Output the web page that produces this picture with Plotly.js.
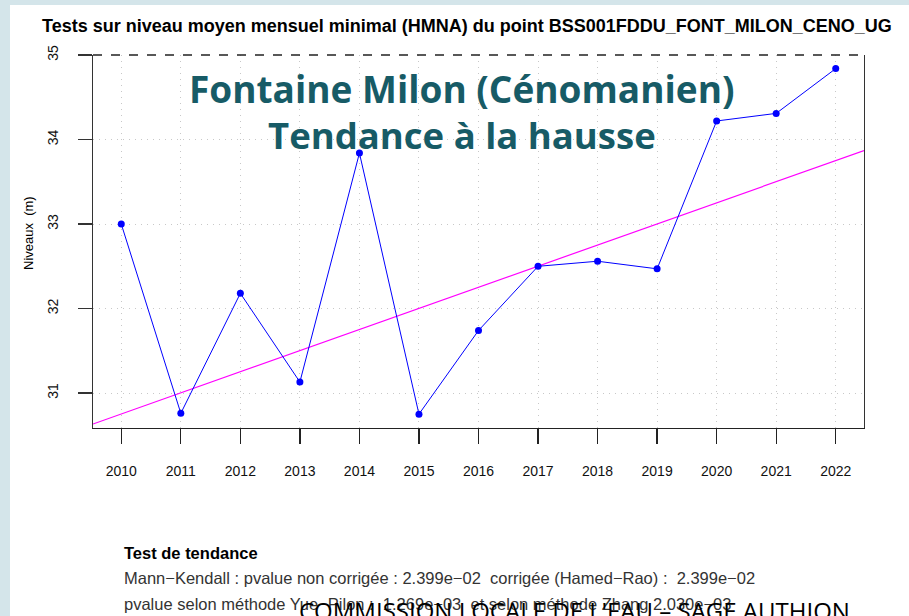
<!DOCTYPE html>
<html>
<head>
<meta charset="utf-8">
<script src="https://cdn.plot.ly/plotly-3.0.1.min.js"></script>
<style>
html,body{margin:0;padding:0;background:#d4e5ea;width:909px;height:616px;overflow:hidden;}
#chart{position:absolute;left:10px;top:5px;width:899px;height:611px;background:#fff;}
</style>
</head>
<body>
<div id="chart"></div>
<script>
// Data
const years = [2010, 2011, 2012, 2013, 2014, 2015, 2016, 2017, 2018, 2019, 2020, 2021, 2022];
const levels = [33.00, 30.76, 32.18, 31.13, 33.84, 30.75, 31.74, 32.50, 32.56, 32.47, 34.22, 34.31, 34.84];
// Trend line (Sen slope) end points at the edges of the frame
const trendYears = [2009.525, 2022.475];
const trendLevels = [30.633, 33.87];
const yTicks = [31, 32, 33, 34, 35];

const plotTitle = "Tests sur niveau moyen mensuel minimal (HMNA) du point BSS001FDDU_FONT_MILON_CENO_UG";
const headline1 = "Fontaine Milon (Cénomanien)";
const headline2 = "Tendance à la hausse";
const testTitle = "Test de tendance";
const testLine1 = "Mann\u2212Kendall : pvalue non corrigée : 2.399e\u221202  corrigée (Hamed\u2212Rao) :  2.399e\u221202";
const testLine2 = "pvalue selon méthode Yue\u2212Pilon :  1.269e\u221203  et selon méthode Zhang 2.030e\u221203";
const footer = "COMMISSION LOCALE DE L'EAU – SAGE AUTHION";

const rFont = "Liberation Sans, Arial, sans-serif";

const traces = [
  {
    x: trendYears, y: trendLevels, type: 'scatter', mode: 'lines',
    line: {color: '#ff00ff', width: 1.2}, hoverinfo: 'skip'
  },
  {
    x: years, y: levels, type: 'scatter', mode: 'lines+markers',
    line: {color: '#0000ff', width: 1}, marker: {color: '#0000ff', size: 7},
    cliponaxis: false
  }
];

const layout = {
  width: 899, height: 611,
  margin: {l: 83, r: 45, t: 50, b: 188},
  paper_bgcolor: '#ffffff', plot_bgcolor: '#ffffff',
  showlegend: false,
  font: {family: rFont, color: '#000'},
  xaxis: {
    range: [2009.525, 2022.475],
    tickmode: 'array', tickvals: years, ticktext: years.map(String),
    showgrid: true, gridcolor: '#c8c8c8', griddash: '1px,5px', gridwidth: 1,
    zeroline: false,
    showline: true, linecolor: '#222', linewidth: 1.3, mirror: false,
    ticks: 'outside', ticklen: 15, tickwidth: 1.3, tickcolor: '#222',
    ticklabelstandoff: 15,
    tickfont: {family: rFont, size: 14, color: '#111'}
  },
  yaxis: {
    range: [30.586, 35.001],
    tickmode: 'array', tickvals: yTicks, ticktext: yTicks.map(String),
    tickangle: -90,
    showgrid: true, gridcolor: '#c8c8c8', griddash: '1px,5px', gridwidth: 1,
    zeroline: false,
    showline: true, linecolor: '#333', linewidth: 1.3, mirror: true,
    ticks: 'outside', ticklen: 14, tickwidth: 1.3, tickcolor: '#333',
    ticklabelstandoff: 14,
    tickfont: {family: rFont, size: 14, color: '#111'}
  },
  shapes: [
    {type: 'line', xref: 'paper', yref: 'paper', x0: 0, x1: 1, y0: 1, y1: 1,
     line: {color: '#222', width: 1.3, dash: 'dash'}}
  ],
  annotations: [
    {text: '<b>' + plotTitle + '</b>', xref: 'paper', yref: 'paper', x: 0.4857, y: 1.0777,
     xanchor: 'center', yanchor: 'middle', showarrow: false,
     font: {family: rFont, size: 18, color: '#000'}},
    {text: '<b>' + headline1 + '</b>', xref: 'paper', yref: 'paper', x: 0.4786, y: 0.9115,
     xanchor: 'center', yanchor: 'middle', showarrow: false,
     font: {family: 'Open Sans, sans-serif', size: 37, color: '#175b66'}},
    {text: '<b>' + headline2 + '</b>', xref: 'paper', yref: 'paper', x: 0.4786, y: 0.7855,
     xanchor: 'center', yanchor: 'middle', showarrow: false,
     font: {family: 'Open Sans, sans-serif', size: 36.5, color: '#175b66'}},
    {text: 'Niveaux  (m)', xref: 'paper', yref: 'paper', x: -0.083, y: 0.5228,
     xanchor: 'center', yanchor: 'middle', textangle: -90, showarrow: false,
     font: {family: rFont, size: 13, color: '#000'}},
    {text: '<b>' + testTitle + '</b>', xref: 'paper', yref: 'paper', x: 0.0376, y: -0.3351,
     xanchor: 'left', yanchor: 'middle', showarrow: false,
     font: {family: rFont, size: 16.5, color: '#000'}},
    {text: testLine1, xref: 'paper', yref: 'paper', x: 0.0376, y: -0.4021,
     xanchor: 'left', yanchor: 'middle', showarrow: false,
     font: {family: rFont, size: 16.5, color: '#333'}},
    {text: testLine2, xref: 'paper', yref: 'paper', x: 0.0376, y: -0.4718,
     xanchor: 'left', yanchor: 'middle', showarrow: false,
     font: {family: rFont, size: 16.5, color: '#333'}},
    {text: footer, xref: 'paper', yref: 'paper', x: 0.2646, y: -0.44,
     xanchor: 'left', yanchor: 'top', showarrow: false,
     font: {family: 'Open Sans, sans-serif', size: 24, color: '#000'}}
  ]
};

Plotly.newPlot('chart', traces, layout, {displayModeBar: false, staticPlot: true});
</script>
</body>
</html>
